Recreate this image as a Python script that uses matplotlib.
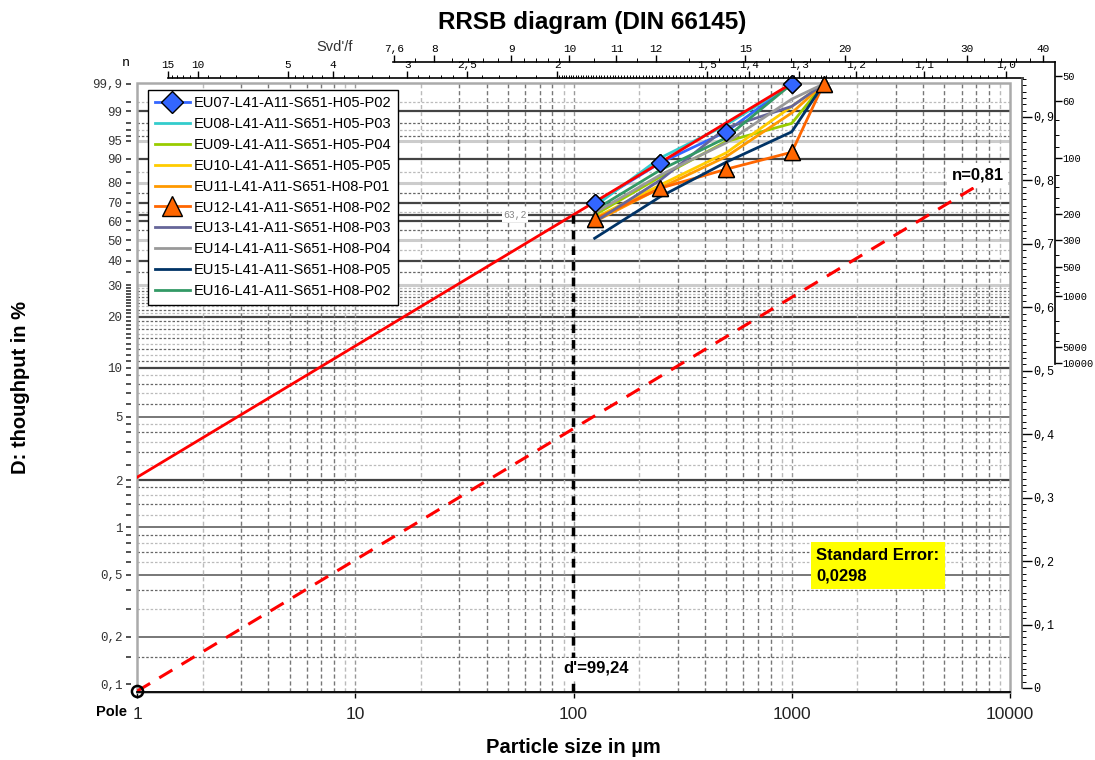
import numpy as np
import matplotlib
matplotlib.use('Agg')
import matplotlib.pyplot as plt
from matplotlib.ticker import FixedLocator, FixedFormatter, NullFormatter, NullLocator
from matplotlib.patches import Rectangle

plt.rcParams['font.family'] = ['Liberation Sans', 'DejaVu Sans']
MONO = 'Liberation Mono'

# Data: cumulative throughput D [%] at each sieve size [um]
#-------------------------------------------------
size_um = [125, 250, 500, 1000, 1400]
nan = np.nan
eu07 = [69.6, 88.5, 96.7, 99.9, nan]
eu08 = [68.0, 90.2, 97.7, 99.9, nan]
eu09 = [63.3, 82.8, 94.8, 97.9, 99.9]
eu10 = [61.7, 79.0, 91.8, 99.3, 99.9]
eu11 = [59.7, 77.5, 90.6, 98.9, 99.9]
eu12 = [61.1, 77.4, 86.0, 92.0, 99.9]
eu13 = [59.5, 81.3, 97.3, 99.3, 99.9]
eu14 = [64.4, 83.6, 94.5, 99.6, 99.9]
eu15 = [50.9, 73.1, 88.7, 96.7, 99.9]
eu16 = [66.0, 85.7, 95.6, 99.9, nan]

names = ['EU07-L41-A11-S651-H05-P02', 'EU08-L41-A11-S651-H05-P03',
         'EU09-L41-A11-S651-H05-P04', 'EU10-L41-A11-S651-H05-P05',
         'EU11-L41-A11-S651-H08-P01', 'EU12-L41-A11-S651-H08-P02',
         'EU13-L41-A11-S651-H08-P03', 'EU14-L41-A11-S651-H08-P04',
         'EU15-L41-A11-S651-H08-P05', 'EU16-L41-A11-S651-H08-P02']
series = [eu07, eu08, eu09, eu10, eu11, eu12, eu13, eu14, eu15, eu16]
colors = ['#3366ff', '#33cccc', '#99cc00', '#ffcc00', '#ff9900',
          '#ff6600', '#666699', '#999999', '#003366', '#339966']

# RRSB fit
d_prime = 99.24
fit_slope = 0.84       # slope as drawn
pole_D = 0.09          # pole at x = 1
dash_end = 8400

# Axis labels
d_ticks = [0.1, 0.2, 0.5, 1, 2, 5, 10, 20, 30, 40, 50, 60, 70, 80, 90, 95, 99, 99.9]
d_minor = [0.15, 0.3, 0.4, 0.6, 0.7, 0.8, 0.9, 1.2, 1.4, 1.6, 1.8, 2.5, 3, 3.5, 4, 4.5,
           6, 7, 8, 9, 11, 12, 13, 14, 15, 16, 17, 18, 19, 21, 22, 23, 24, 25, 26, 27, 28, 29,
           35, 45, 55, 65, 75, 85, 96, 97, 98, 99.5]
h_dark = [2, 10, 20, 40, 60, 63.2, 70, 90, 99]
h_grey = [0.2, 0.5, 1, 5]
h_light = [30, 50, 80, 95]

n_top = [15, 10, 5, 4, 3, 2.5, 2, 1.5, 1.4, 1.3, 1.2, 1.1, 1.0]
n_top_lab = ['15', '10', '5', '4', '3', '2,5', '2', '1,5', '1,4', '1,3', '1,2', '1,1', '1,0']
n_top_minor = [14, 13, 12, 11, 9, 8, 7, 6, 4.8, 4.6, 4.4, 4.2, 3.8, 3.6, 3.4, 3.2,
               2.9, 2.8, 2.7, 2.6, 2.4, 2.3, 2.2, 2.1]
svd = [7.6, 8, 9, 10, 11, 12, 15, 20, 30, 40]
svd_lab = ['7,6', '8', '9', '10', '11', '12', '15', '20', '30', '40']
svd_minor = [7.8, 8.2, 8.4, 8.6, 8.8, 9.2, 9.4, 9.6, 9.8, 10.5, 11.5, 13, 14,
             16, 17, 18, 19, 22, 24, 26, 28, 32, 34, 36, 38]
sv = [50, 60, 100, 200, 300, 500, 1000, 5000, 10000]
sv_minor = [70, 80, 90, 120, 140, 160, 180, 400, 600, 700, 800, 900, 2000, 3000, 4000]


def d_fwd(D):
    D = np.clip(np.asarray(D, dtype=float), 1e-9, 100 - 1e-9)
    return np.log10(-np.log(1 - D / 100))


def d_inv(y):
    return 100 * (1 - np.exp(-10 ** np.asarray(y, dtype=float)))


W, H = 1095, 760
fig = plt.figure(figsize=(W / 100, H / 100), dpi=100)


def box(x0, y0, x1, y1):
    return [x0 / W, 1 - y1 / H, (x1 - x0) / W, (y1 - y0) / H]


# Main RRSB net
#-------------------------------------------------
ax = fig.add_axes(box(137, 83, 1010, 692))
ax.set_xscale('log')
ax.set_yscale('function', functions=(d_fwd, d_inv))
ax.set_xlim(1, 10000)
ax.set_ylim(0.089, 99.909)

for v in h_dark:
    ax.axhline(v, color='#444444', lw=1.6, zorder=1)
for v in h_grey:
    ax.axhline(v, color='#777777', lw=1.4, zorder=1)
for v in h_light:
    ax.axhline(v, color='#cccccc', lw=2.2, zorder=1)
for i, v in enumerate(d_minor):
    c = '#666666' if i % 2 == 0 else '#bbbbbb'
    ax.axhline(v, color=c, lw=0.9, dashes=(2, 1.5), zorder=1)

for dec in [1, 10, 100, 1000]:
    for m in range(2, 10):
        c = '#bbbbbb' if m in (2, 9) else '#777777'
        ax.axvline(m * dec, color=c, lw=1.0, dashes=(3, 2), zorder=1)
    if dec > 1:
        ax.axvline(dec, color='#999999', lw=1.0, dashes=(3, 2), zorder=1)

ax.add_patch(Rectangle((0, 0), 1, 1, transform=ax.transAxes, fill=False,
                       edgecolor='#aaaaaa', lw=1.8, zorder=2, clip_on=False))
for s in ['top', 'right']:
    ax.spines[s].set_visible(False)
ax.spines['left'].set_position(('outward', 4))
ax.spines['left'].set_color('none')
ax.spines['bottom'].set_color('black')
ax.spines['bottom'].set_linewidth(1.3)
ax.spines['bottom'].set_zorder(6)

ax.yaxis.set_major_locator(FixedLocator(d_ticks))
ax.yaxis.set_major_formatter(FixedFormatter([f'{v:g}'.replace('.', ',') for v in d_ticks]))
ax.yaxis.set_minor_locator(FixedLocator(d_minor))
ax.yaxis.set_minor_formatter(NullFormatter())
ax.tick_params(axis='y', which='both', length=3.5, width=1.2, color='#333333', pad=3,
               labelsize=9, labelcolor='#333333')
for t in ax.get_yticklabels():
    t.set_fontfamily(MONO)

ax.set_xticks([1, 10, 100, 1000, 10000])
ax.set_xticklabels(['1', '10', '100', '1000', '10000'])
ax.xaxis.set_minor_locator(NullLocator())
ax.tick_params(axis='x', length=4, width=1, pad=7, labelsize=12.5, labelcolor='#222222')

# data series
for vals, name, c in zip(series, names, colors):
    kw = dict(color=c, lw=2, zorder=3, clip_on=False, label=name)
    if name.startswith('EU07'):
        kw.update(marker='D', ms=9, mfc=c, mec='black', mew=1)
    if name.startswith('EU12'):
        kw.update(marker='^', ms=11, mfc=c, mec='black', mew=1)
    ax.plot(size_um, vals, **kw)

# RRSB straight line and parallel through the pole
x_fit = np.logspace(0, np.log10(990), 200)
ax.plot(x_fit, 100 * (1 - np.exp(-(x_fit / d_prime) ** fit_slope)),
        color='red', lw=2, zorder=4)
x_pole = np.logspace(0, np.log10(dash_end), 100)
ax.plot(x_pole, d_inv(d_fwd(pole_D) + fit_slope * np.log10(x_pole)),
        color='red', lw=2.2, dashes=(5, 3.5), zorder=4)
ax.plot([1], [pole_D], 'o', mfc='none', mec='black', mew=1.8, ms=8, zorder=7, clip_on=False)

# markers on top of the red line
ax.plot(size_um, eu07, 'D', ms=9, mfc=colors[0], mec='black', mew=1, zorder=5, clip_on=False)
ax.plot(size_um, eu12, '^', ms=11, mfc=colors[5], mec='black', mew=1, zorder=5, clip_on=False)

# d' marker line
ax.plot([d_prime, d_prime], [0.089, 63.2], color='black', lw=2.5, dashes=(2.5, 2), zorder=4)
ax.text(0.5258, 0.039, "d'=99,24", transform=ax.transAxes, ha='center', va='center',
        fontsize=12, fontweight='bold', zorder=8,
        bbox=dict(facecolor='white', edgecolor='none', pad=2))
ax.text(54, 63.2, '63,2', ha='center', va='center', fontsize=7, color='#888888',
        fontfamily=MONO, zorder=2, bbox=dict(facecolor='white', edgecolor='none', pad=1))
ax.text(0.9628, 0.849, 'n=0,81', transform=ax.transAxes, ha='center', va='center',
        fontsize=12, fontweight='bold', zorder=8,
        bbox=dict(facecolor='white', edgecolor='none', pad=3))
ax.text(0.778, 0.207, 'Standard Error:\n0,0298', transform=ax.transAxes, ha='left',
        va='center', fontsize=12, fontweight='bold', linespacing=1.5, zorder=8,
        bbox=dict(facecolor='#ffff00', edgecolor='none', pad=4))
ax.text(-0.029, -0.033, 'Pole', transform=ax.transAxes, ha='center', va='center',
        fontsize=10.5, fontweight='bold')

leg = ax.legend(loc='upper left', bbox_to_anchor=(0.0126, 0.989), borderaxespad=0,
                fontsize=10.5, frameon=True, fancybox=False, framealpha=1,
                edgecolor='black', handlelength=2.4, handletextpad=0.3,
                labelspacing=0.47, borderpad=0.45, markerscale=1.25)
leg.get_frame().set_linewidth(1)
leg.set_zorder(9)

ax.set_xlabel('Particle size in µm', fontsize=14.5, fontweight='bold')
ax.xaxis.set_label_coords(0.5, (692 - 738) / 609)
ax.set_ylabel('D: thoughput in %', fontsize=14.5, fontweight='bold')
ax.yaxis.set_label_coords((30 - 137) / 873, 0.5)

fig.text(592 / W, 1 - 22 / H, 'RRSB diagram (DIN 66145)', ha='center', va='center',
         fontsize=17.5, fontweight='bold')


def plain(a):
    a.patch.set_alpha(0)
    for s in a.spines.values():
        s.set_visible(False)


# n scale on top (linear in 1/n)
#-------------------------------------------------
ax_t1 = fig.add_axes(box(168, 78, 1023, 79))
plain(ax_t1)
ax_t1.spines['top'].set_visible(True)
ax_t1.spines['top'].set_linewidth(1.2)
ax_t1.set_xlim(0.0668, 1.0189)
ax_t1.xaxis.tick_top()
ax_t1.set_yticks([])
ax_t1.set_xticks([1 / n for n in n_top])
ax_t1.set_xticklabels(n_top_lab)
minor_n = list(n_top_minor) + [round(v, 2) for v in np.arange(1.01, 2.0, 0.01)
                                if round(v, 2) not in n_top]
ax_t1.set_xticks([1 / n for n in minor_n], minor=True)
ax_t1.tick_params(axis='x', which='major', length=5, width=1, pad=1, labelsize=8)
ax_t1.tick_params(axis='x', which='minor', length=2.5, width=0.7)
for t in ax_t1.get_xticklabels():
    t.set_fontfamily(MONO)

# Svd'/f scale on top
ax_t2 = fig.add_axes(box(393, 62, 1055, 63))
plain(ax_t2)
ax_t2.spines['top'].set_visible(True)
ax_t2.spines['top'].set_linewidth(1.2)
ax_t2.set_xlim(0.3174, 1.0546)
ax_t2.xaxis.tick_top()
ax_t2.set_yticks([])
u_svd = lambda s: np.sqrt(np.log(np.asarray(s, dtype=float) / 6.4) / 1.69)
ax_t2.set_xticks(u_svd(svd))
ax_t2.set_xticklabels(svd_lab)
ax_t2.set_xticks(u_svd(svd_minor), minor=True)
ax_t2.tick_params(axis='x', which='major', length=5, width=1, pad=1, labelsize=8)
ax_t2.tick_params(axis='x', which='minor', length=3, width=0.7)
for t in ax_t2.get_xticklabels():
    t.set_fontfamily(MONO)

fig.text(126 / W, 1 - 63 / H, 'n', ha='center', va='center', fontsize=9.5, fontfamily=MONO)
fig.text(335 / W, 1 - 47 / H, "Svd'/f", ha='center', va='center', fontsize=10.5, color='#333333')

# n scale on the right
#-------------------------------------------------
ax_n = fig.add_axes(box(1021, 78, 1022, 688))
plain(ax_n)
ax_n.spines['right'].set_visible(True)
ax_n.spines['right'].set_color('#555555')
ax_n.spines['right'].set_linewidth(1.2)
ax_n.set_ylim(0, 0.9614)
ax_n.set_xticks([])
ax_n.yaxis.tick_right()
n_right = np.arange(0, 10) / 10
ax_n.set_yticks(n_right)
ax_n.set_yticklabels(['0'] + [f'0,{i}' for i in range(1, 10)])
ax_n.set_yticks(np.arange(0, 97) / 100, minor=True)
ax_n.tick_params(axis='y', which='major', length=7, width=1, pad=1, labelsize=8.5)
ax_n.tick_params(axis='y', which='minor', length=3, width=0.7)
for t in ax_n.get_yticklabels():
    t.set_fontfamily(MONO)

# specific surface scale on the right
ax_s = fig.add_axes(box(1054, 62, 1055, 364))
plain(ax_s)
ax_s.spines['right'].set_visible(True)
ax_s.spines['right'].set_linewidth(1.2)
ax_s.set_ylim(0.5106, 0.9866)
ax_s.set_xticks([])
ax_s.yaxis.tick_right()
n_sv = lambda s: np.sqrt(1.93 / np.log(np.asarray(s, dtype=float) / 6.3))
ax_s.set_yticks(n_sv(sv))
ax_s.set_yticklabels([str(v) for v in sv])
ax_s.set_yticks(n_sv(sv_minor), minor=True)
ax_s.tick_params(axis='y', which='major', length=5, width=1, pad=0.5, labelsize=7.5)
ax_s.tick_params(axis='y', which='minor', length=3, width=0.7)
for t in ax_s.get_yticklabels():
    t.set_fontfamily(MONO)

fig.savefig('out.png', dpi=100)
